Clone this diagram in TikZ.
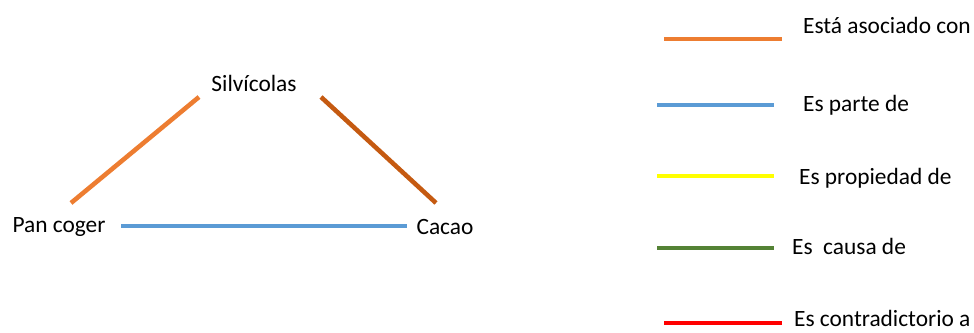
\documentclass[tikz,border=0pt]{standalone}
\usepackage{fontspec}
\setmainfont{Carlito}
\definecolor{asocorange}{HTML}{ED7D31}
\definecolor{asocbrown}{HTML}{C55A11}
\definecolor{parteblue}{HTML}{5B9BD5}
\definecolor{propyellow}{HTML}{FFFF00}
\definecolor{causagreen}{HTML}{548235}
\definecolor{contrred}{HTML}{FF0000}
\tikzset{
  concept/.style={font=\fontsize{13.3}{15}\selectfont, inner sep=1pt},
  legtext/.style={concept, anchor=west},
  relation/.style={line width=2.6pt}
}
\begin{document}
\begin{tikzpicture}[x=0.2mm, y=-0.2mm]
  \useasboundingbox (0,0) rectangle (974,333);
  % concepts
  \node[concept] (silv) at (254,83) {Silvícolas};
  \node[concept] (pan) at (59,227) {Pan coger};
  \node[concept] (cacao) at (445,227) {Cacao};
  % line ends
  \coordinate (pan-a) at (71,203);
  \coordinate (silv-a) at (199,97);
  \coordinate (silv-b) at (321,97);
  \coordinate (cacao-b) at (436,203);
  \coordinate (pan-c) at (121,226);
  \coordinate (cacao-c) at (407,226);
  \draw[relation, asocorange] (pan-a) -- (silv-a);
  \draw[relation, asocbrown] (silv-b) -- (cacao-b);
  \draw[relation, parteblue] (pan-c) -- (cacao-c);
  % legend
  \coordinate (l1a) at (664,39);  \coordinate (l1b) at (782,39);
  \coordinate (l2a) at (657,105); \coordinate (l2b) at (774,105);
  \coordinate (l3a) at (657,176); \coordinate (l3b) at (774,176);
  \coordinate (l4a) at (657,248); \coordinate (l4b) at (774,248);
  \coordinate (l5a) at (664,323); \coordinate (l5b) at (782,323);
  \draw[relation, asocorange] (l1a) -- (l1b);
  \draw[relation, parteblue] (l2a) -- (l2b);
  \draw[relation, propyellow] (l3a) -- (l3b);
  \draw[relation, causagreen] (l4a) -- (l4b);
  \draw[relation, contrred] (l5a) -- (l5b);
  \node[legtext] (t1) at (801,25) {Está asociado con};
  \node[legtext] (t2) at (801,105) {Es parte de};
  \node[legtext] (t3) at (797,178) {Es propiedad de};
  \node[legtext] (t4) at (790,246) {Es\ \ causa de};
  \node[legtext] (t5) at (792,318) {Es contradictorio a};
\end{tikzpicture}
\end{document}
